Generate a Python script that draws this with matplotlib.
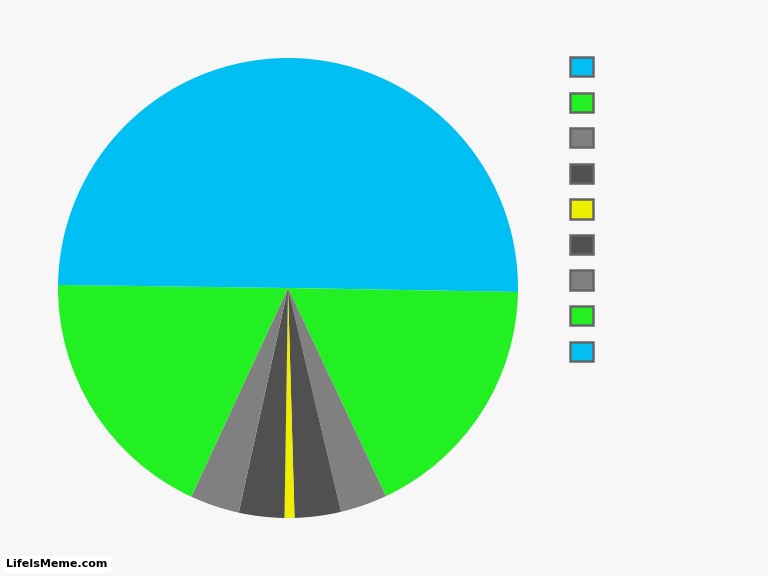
import matplotlib.pyplot as plt
from matplotlib.patches import Patch

# slice sizes (degrees), clockwise from top
sizes = [91.0, 63.8, 11.9, 11.7, 2.5, 11.5, 12.5, 65.9, 89.25]
colors = ['#00BFF3', '#22F022', '#808080', '#505050', '#EEEE00',
          '#505050', '#808080', '#22F022', '#00BFF3']
labels = [' '] * 9

bg = '#F7F7F7'
fig = plt.figure(figsize=(7.68, 5.76), dpi=100, facecolor=bg)
cx, cy, r = 288, 288, 230
ax = fig.add_axes([(cx - r) / 768, (576 - cy - r) / 576, 2 * r / 768, 2 * r / 576])
ax.set_facecolor(bg)
ax.pie(sizes, colors=colors, startangle=90, counterclock=False,
       wedgeprops=dict(linewidth=0))
ax.set_xlim(-1, 1)
ax.set_ylim(-1, 1)
ax.set_aspect('equal')
ax.axis('off')

handles = [Patch(facecolor=c, edgecolor='#666666', linewidth=1.8) for c in colors]
fig.legend(handles, labels, loc='upper left', bbox_to_anchor=(570 / 768, 1 - 57 / 576),
           frameon=False, fontsize=12, handlelength=1.4, handleheight=1.4,
           labelspacing=0.98, handletextpad=0.5, borderpad=0, borderaxespad=0)

fig.text(0.008, 0.02, 'LifeIsMeme.com', fontsize=8, fontweight='bold', color='black',
         ha='left', va='center',
         bbox=dict(boxstyle='square,pad=0.3', facecolor='white', edgecolor='none'))

fig.savefig('out.png', dpi=100, facecolor=bg)
